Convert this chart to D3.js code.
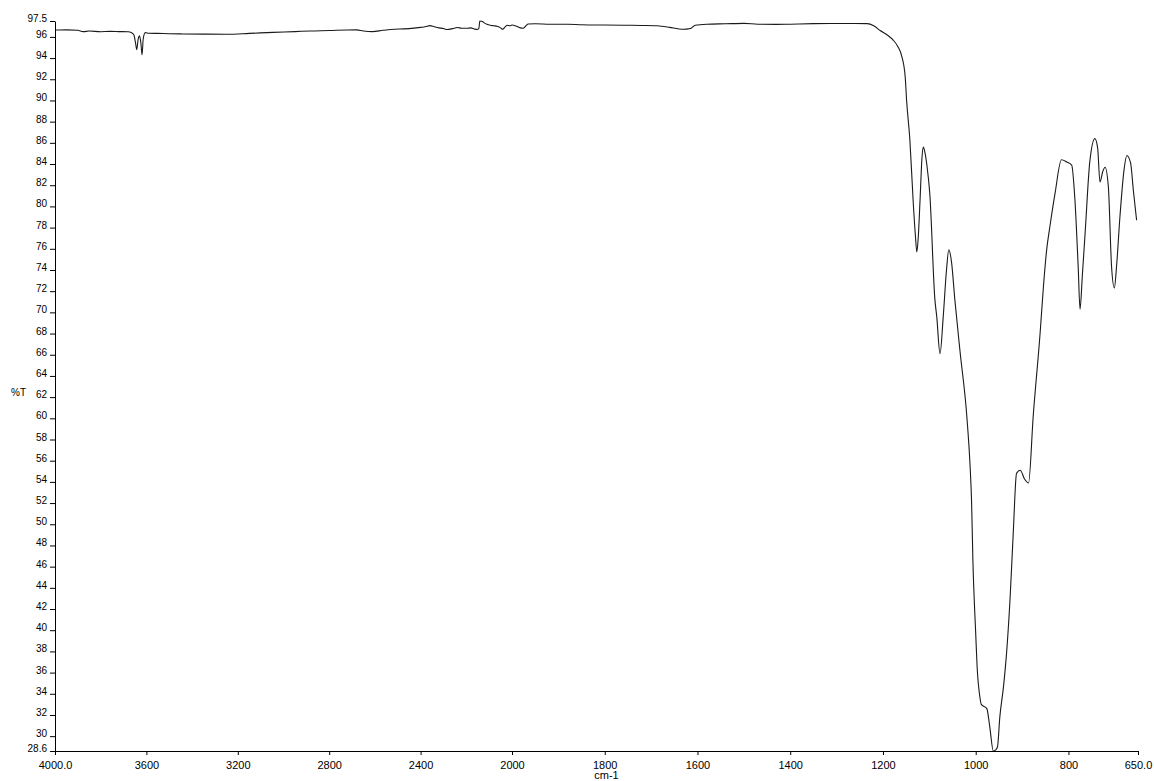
<!DOCTYPE html>
<html>
<head>
<meta charset="utf-8">
<script src="https://cdn.jsdelivr.net/npm/d3@7"></script>
<style>
  html, body { margin: 0; padding: 0; background: #fff; }
  svg { display: block; }
  .axis text { font-family: "Liberation Sans", Arial, sans-serif; font-size: 11px; fill: #000; }
  .axis.yax text { font-size: 10px; }
  .axis path, .axis line { stroke: #000; stroke-width: 1; }
</style>
</head>
<body>
<div id="chart"></div>
<script>
// 4000 - 2000 cm-1 part of the spectrum (wavenumber, %T)
const highWn = [4000, 3950, 3900, 3877, 3850, 3800, 3760, 3720, 3680, 3665, 3655, 3648, 3642, 3636, 3630, 3624, 3619, 3614, 3605,
  3590, 3550, 3500, 3440, 3350, 3247, 3150, 3046, 2950, 2884, 2800, 2722, 2680, 2650, 2610, 2565, 2530, 2490, 2450, 2420,
  2400, 2380, 2359, 2340, 2320, 2300, 2285, 2260, 2240, 2220, 2197, 2180, 2165, 2153, 2145, 2141, 2130, 2120, 2110, 2095,
  2080, 2065, 2050, 2040, 2030, 2020, 2010];
const highT = [96.65, 96.66, 96.62, 96.5, 96.55, 96.49, 96.52, 96.5, 96.48, 96.4, 96.2, 95.5, 94.8, 95.8, 96.1, 95.4, 94.3, 95.8, 96.4,
  96.35, 96.33, 96.3, 96.28, 96.26, 96.25, 96.33, 96.43, 96.5, 96.56, 96.6, 96.65, 96.66, 96.55, 96.5, 96.62, 96.7, 96.75, 96.78, 96.85,
  96.9, 96.95, 97.06, 96.95, 96.85, 96.8, 96.7, 96.78, 96.88, 96.82, 96.81, 96.85, 96.75, 96.7, 96.8, 97.5, 97.45, 97.3, 97.2, 97.1,
  97.05, 97.0, 96.85, 96.72, 96.95, 97.1, 97.05];

// 2000 - 650 cm-1 part of the spectrum (wavenumber, %T)
const lowWn = [2000, 1990, 1982, 1976, 1970, 1965, 1950, 1918, 1880, 1850, 1800, 1760, 1720, 1687, 1660, 1640, 1631, 1615, 1605,
  1580, 1540, 1500, 1470, 1430, 1400, 1350, 1300, 1260, 1234, 1220, 1206, 1190, 1178, 1168, 1159, 1152, 1149, 1142, 1135, 1130,
  1127, 1124, 1120, 1116, 1113, 1110, 1105, 1099, 1088, 1084, 1077, 1070, 1063, 1058, 1052, 1045, 1034, 1019, 1012, 1009, 1006,
  1000, 997, 991, 988, 976, 970, 962, 957, 953, 948, 940, 933, 926, 919, 912, 904, 895, 886, 876, 861, 854, 847, 840, 829,
  815, 804, 793, 786, 779, 775, 770, 764, 754, 743, 737, 732, 726, 721, 714, 707, 701, 696, 689, 680, 674, 666, 660, 653];
const lowT = [97.12, 97.0, 96.85, 96.81, 97.05, 97.22, 97.24, 97.19, 97.2, 97.15, 97.12, 97.1, 97.08, 97.05, 96.9, 96.75, 96.72, 96.8, 97.1,
  97.2, 97.24, 97.28, 97.2, 97.18, 97.2, 97.25, 97.27, 97.27, 97.25, 97.05, 96.6, 96.15, 95.7, 95.1, 94.1, 92.2, 90.0, 86.3, 80.6, 77.2,
  75.7, 77.0, 80.6, 84.5, 85.6, 85.2, 83.8, 81.2, 71.2, 69.6, 66.1, 69.6, 74.0, 75.9, 74.7, 71.2, 66.4, 60.1, 55.4, 52.3, 46.5,
  39.7, 36.6, 33.7, 33.0, 32.6, 31.0, 28.6, 28.7, 29.0, 31.8, 34.7, 38.1, 42.9, 49.2, 54.8, 55.1, 54.3, 53.9, 60.2, 68.1, 72.4, 75.9, 78.1, 81.2,
  84.4, 84.2, 83.9, 80.6, 74.3, 70.3, 73.5, 77.5, 84.2, 86.4, 85.5, 82.3, 83.3, 83.7, 81.9, 74.3, 72.3, 74.5, 79.0, 83.5, 84.8, 84.1, 81.5, 78.7];

const xTicks = [4000, 3600, 3200, 2800, 2400, 2000, 1800, 1600, 1400, 1200, 1000, 800, 650];
const yTicks = [28.6, 30, 32, 34, 36, 38, 40, 42, 44, 46, 48, 50, 52, 54, 56, 58, 60, 62, 64, 66, 68, 70,
  72, 74, 76, 78, 80, 82, 84, 86, 88, 90, 92, 94, 96, 97.5];

const W = 1154, H = 781;
const plotLeft = 55, plotRight = 1138, plotTop = 21, plotBottom = 751;

const svg = d3.select('#chart').append('svg')
  .attr('width', W)
  .attr('height', H);

// the scale is expanded x2 below 2000 cm-1
const x = d3.scaleLinear()
  .domain([4000, 2000, 650])
  .range([plotLeft, 512, plotRight]);

const y = d3.scaleLinear()
  .domain([28.6, 97.5])
  .range([plotBottom, plotTop]);

var data = highWn.map((w, i) => ({wn: w, t: highT[i]}))
  .concat(lowWn.map((w, i) => ({wn: w, t: lowT[i]})));

const line = d3.line()
  .x(d => x(d.wn))
  .y(d => y(d.t))
  .curve(d3.curveMonotoneX);

svg.append('path')
  .datum(data)
  .attr('fill', 'none')
  .attr('stroke', '#1a1a1a')
  .attr('stroke-width', 1.1)
  .attr('d', line);

// axes
svg.append('g')
  .attr('class', 'axis')
  .attr('transform', `translate(0,${plotBottom})`)
  .call(d3.axisBottom(x)
    .tickValues(xTicks)
    .tickSize(4)
    .tickSizeOuter(0)
    .tickPadding(6)
    .tickFormat(d => (d === 4000 || d === 650) ? d.toFixed(1) : d));

const yAxis = svg.append('g')
  .attr('class', 'axis yax')
  .attr('transform', `translate(${plotLeft},0)`)
  .call(d3.axisLeft(y)
    .tickValues(yTicks)
    .tickSize(5)
    .tickSizeOuter(0)
    .tickPadding(3)
    .tickFormat(d => d));

yAxis.selectAll('text').attr('dy', '0.05em');

svg.append('text')
  .attr('x', (plotLeft + plotRight) / 2 + 10)
  .attr('y', 779)
  .attr('text-anchor', 'middle')
  .style('font-family', '"Liberation Sans", Arial, sans-serif')
  .style('font-size', '11px')
  .text('cm-1');

svg.append('text')
  .attr('x', 11)
  .attr('y', 396)
  .style('font-family', '"Liberation Sans", Arial, sans-serif')
  .style('font-size', '10px')
  .text('%T');
</script>
</body>
</html>
